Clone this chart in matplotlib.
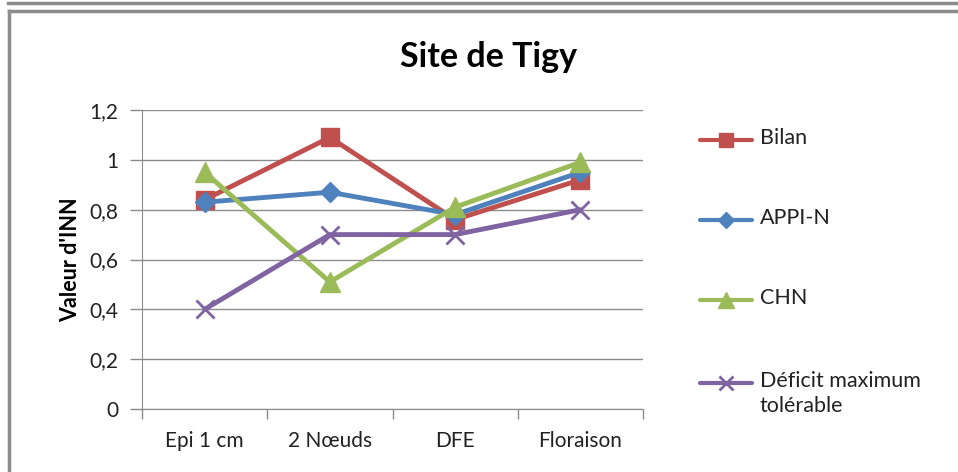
import matplotlib
matplotlib.use("Agg")
import matplotlib.pyplot as plt
from matplotlib.lines import Line2D

categories = ["Epi 1 cm", "2 Nœuds", "DFE", "Floraison"]
bilan = [0.84, 1.09, 0.76, 0.92]
appi_n = [0.83, 0.87, 0.78, 0.95]
chn = [0.95, 0.51, 0.81, 0.99]
deficit = [0.40, 0.70, 0.70, 0.80]
y_ticks = [0, 0.2, 0.4, 0.6, 0.8, 1.0, 1.2]
y_labels = ["0", "0,2", "0,4", "0,6", "0,8", "1", "1,2"]

plt.rcParams['font.family'] = ['Lato', 'DejaVu Sans']

W, H = 958, 472
fig = plt.figure(figsize=(W/100, H/100), dpi=100)
ax = fig.add_axes([142/W, 1-409/H, (643-142)/W, (409-110)/H])

x = list(range(len(categories)))
series = [
    ("Bilan", bilan, "#C0504D", "s", 13, 1),
    ("APPI-N", appi_n, "#4F81BD", "D", 10, 1),
    ("CHN", chn, "#9BBB59", "^", 15, 1),
    ("Déficit maximum\ntolérable", deficit, "#8064A2", "x", 13, 2),
]
for name, vals, col, mk, ms, mew in series:
    ax.plot(x, vals, color=col, lw=3.5, marker=mk, markersize=ms,
            markeredgewidth=mew, markeredgecolor=col, markerfacecolor=col,
            solid_joinstyle='round', solid_capstyle='round', zorder=3)

ax.set_xlim(-0.5, len(categories) - 0.5)
ax.set_ylim(0, 1.2)
ax.set_yticks(y_ticks)
ax.set_yticklabels(y_labels, fontsize=15, color='#222222')
ax.set_xticks(x)
ax.set_xticklabels(categories, fontsize=15, color='#222222')
ax.tick_params(axis='x', which='major', length=0, pad=16)
ax.set_xticks([i - 0.5 for i in range(len(categories) + 1)], minor=True)
ax.tick_params(axis='x', which='minor', length=7, color='#8C8C8C', width=1)
ax.tick_params(axis='y', length=9, color='#8C8C8C', width=1, pad=8)
ax.grid(axis='y', color='#8C8C8C', lw=1)
ax.set_axisbelow(True)
for s in ['top', 'right']:
    ax.spines[s].set_visible(False)
for s in ['left', 'bottom']:
    ax.spines[s].set_color('#8C8C8C')
ax.set_ylabel("Valeur d'INN", fontsize=15.5, fontweight='bold', labelpad=6)

fig.text(489/W, 1-57/H, "Site de Tigy", fontsize=24.5, fontweight='bold',
         ha='center', va='center')

# legend (drawn in figure coordinates)
leg_y = [140, 220, 300, 383]
for (name, vals, col, mk, ms, mew), yp in zip(series, leg_y):
    yf = 1 - yp/H
    fig.add_artist(Line2D([700/W, 752/W], [yf, yf], color=col, lw=3,
                          solid_capstyle='round'))
    fig.add_artist(Line2D([726/W], [yf], color=col, marker=mk,
                          markersize=ms*0.8, markeredgewidth=mew,
                          markeredgecolor=col, markerfacecolor=col, lw=0))
    fig.text(760/W, 1 - (yp - 12)/H, name, fontsize=15.5, ha='left', va='top',
             linespacing=1.3, color='#222222')

# frame borders
fig.add_artist(Line2D([8/W, 1], [1-3/H, 1-3/H], color='#8C8C8C', lw=2.5))
fig.add_artist(Line2D([9/W, 1], [1-11/H, 1-11/H], color='#8C8C8C', lw=2.5))
fig.add_artist(Line2D([9/W, 9/W], [0, 1-11/H], color='#8C8C8C', lw=2.5))

fig.savefig("out.png", dpi=100)
